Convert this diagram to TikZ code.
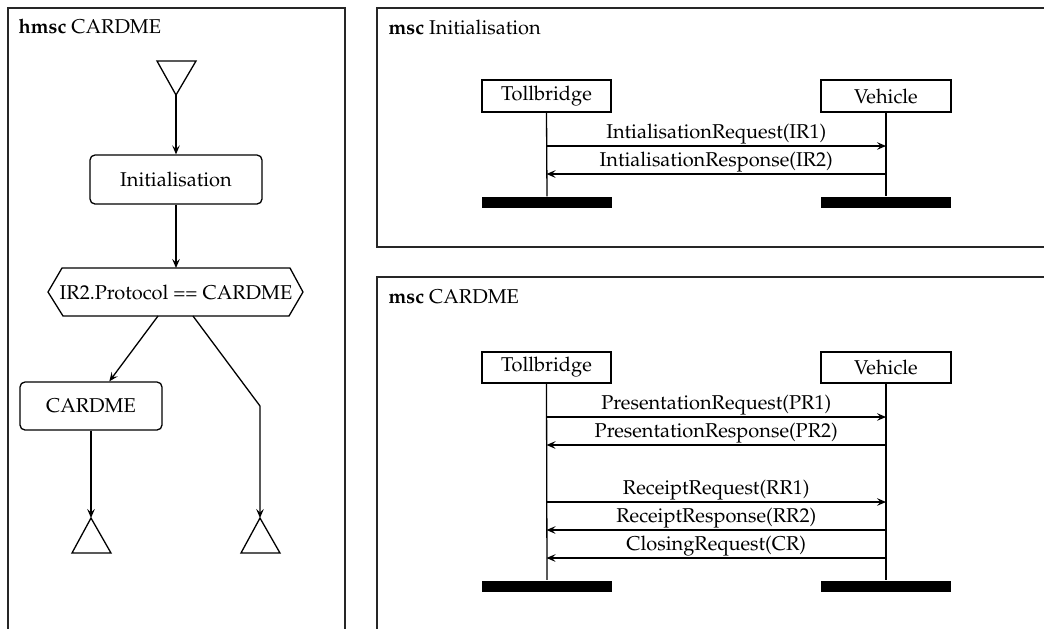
\documentclass[tikz,border=0pt]{standalone}
\usepackage[T1]{fontenc}
\usepackage{mathpazo}
\usetikzlibrary{arrows.meta}

\begin{document}
\begin{tikzpicture}[x=0.5pt,y=-0.5pt,
  font=\fontsize{10pt}{12pt}\selectfont,
  line width=0.65pt,
  frame/.style={draw=black!85,line width=0.75pt},
  ref/.style={draw,rounded corners=2.5pt,minimum width=86pt,minimum height=24.5pt,inner sep=0pt},
  inst/.style={draw,minimum width=64.5pt,minimum height=16pt,inner sep=0pt},
  endbar/.style={fill=black,minimum width=65pt,minimum height=5.5pt,inner sep=0pt},
  flow/.style={-{Stealth[length=4.5pt,width=3.8pt,inset=1.8pt]}},
  msg/.style={-{Stealth[length=4.5pt,width=3.8pt,inset=1.8pt]}},
  lbl/.style={anchor=base,yshift=4pt,inner sep=0pt},
  ttl/.style={anchor=base west,inner sep=0pt}]
\useasboundingbox (0,0) rectangle (1044,628);
\clip (0,0) rectangle (1044,628);

% ---------- frames ----------
\draw[frame] (8,8) rectangle (345,700);
\draw[frame] (377,8) rectangle (1070,247);
\draw[frame] (377,277) rectangle (1070,700);

\node[ttl] (t1) at (18,33) {\textbf{hmsc} CARDME};
\node[ttl] (t2) at (388,34) {\textbf{msc} Initialisation};
\node[ttl] (t3) at (388,303) {\textbf{msc} CARDME};

% ---------- HMSC ----------
% start symbol
\draw (157,61) -- (196,61) -- (176,95) -- cycle;
\coordinate (start) at (176,95);

\node[ref] (init) at (176,179.5) {Initialisation};

% condition
\draw (48,292) -- (62,268) -- (290,268) -- (303,292) -- (289,316) -- (63,316) -- cycle;
\node (cond) at (176,292) {IR2.Protocol == CARDME};
\coordinate (condtop) at (176,268);
\coordinate (condl) at (158,316);
\coordinate (condr) at (193,316);
\coordinate (bend) at (260,406);

\node[ref,minimum width=71pt,minimum height=24pt] (card) at (91,406) {CARDME};

% end symbols
\coordinate (endl) at (91,518);
\coordinate (endr) at (260,518);
\draw (endl) -- (111,553) -- (72,553) -- cycle;
\draw (endr) -- (280,553) -- (241,553) -- cycle;

\draw[flow] (start) -- (init);
\draw[flow] (init) -- (condtop);
\draw[flow] (condl) -- (card);
\draw[flow] (condr) -- (bend) -- (endr);
\draw[flow] (card) -- (endl);

% ---------- MSC Initialisation ----------
\node[inst] (tb1) at (546.5,96) {Tollbridge};
\node[inst,minimum width=65pt] (vh1) at (886,96) {Vehicle};
\node[endbar] (tbe1) at (547,202.5) {};
\node[endbar] (vhe1) at (886,202.5) {};
\draw (tb1.south) -- (tbe1.north);
\draw (vh1.south) -- (vhe1.north);

\draw[msg] (tb1 |- 0,146) -- node[lbl] {IntialisationRequest(IR1)} (vh1 |- 0,146);
\draw[msg] (vh1 |- 0,174) -- node[lbl] {IntialisationResponse(IR2)} (tb1 |- 0,174);

% ---------- MSC CARDME ----------
\node[inst,minimum height=15.5pt] (tb2) at (546.5,367.5) {Tollbridge};
\node[inst,minimum width=65pt,minimum height=15.5pt] (vh2) at (886,367.5) {Vehicle};
\node[endbar] (tbe2) at (547,586) {};
\node[endbar] (vhe2) at (886,586) {};
\draw (tb2.south) -- (tbe2.north);
\draw (vh2.south) -- (vhe2.north);

\draw[msg] (tb2 |- 0,417) -- node[lbl] {PresentationRequest(PR1)} (vh2 |- 0,417);
\draw[msg] (vh2 |- 0,445) -- node[lbl] {PresentationResponse(PR2)} (tb2 |- 0,445);
\draw[msg] (tb2 |- 0,502) -- node[lbl] {ReceiptRequest(RR1)} (vh2 |- 0,502);
\draw[msg] (vh2 |- 0,530) -- node[lbl] {ReceiptResponse(RR2)} (tb2 |- 0,530);
\draw[msg] (vh2 |- 0,558) -- node[lbl] {ClosingRequest(CR)} (tb2 |- 0,558);
\end{tikzpicture}
\end{document}
